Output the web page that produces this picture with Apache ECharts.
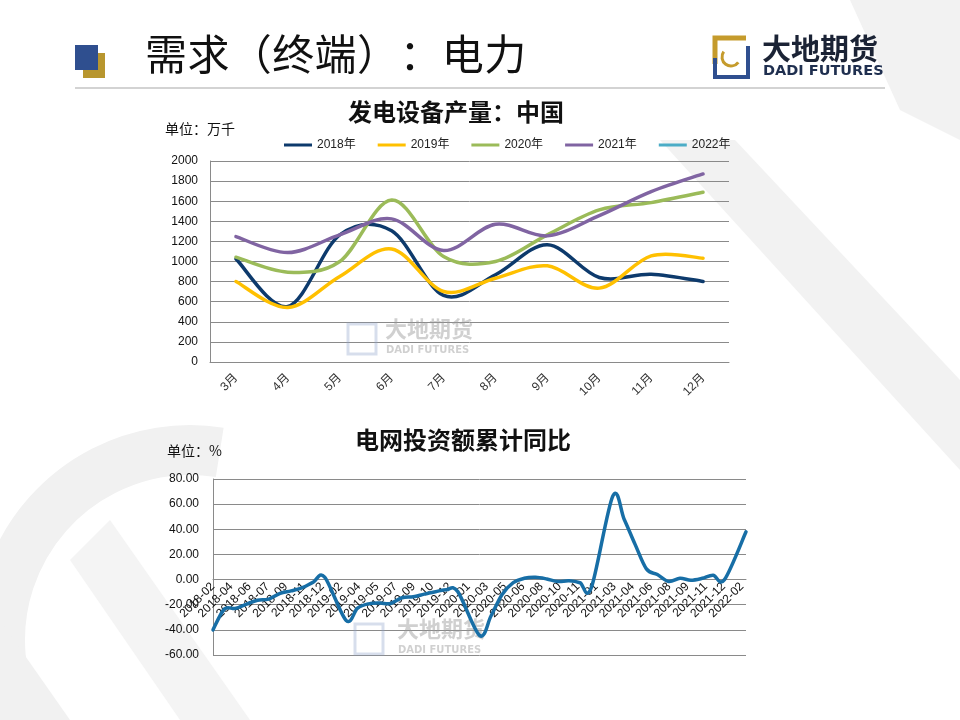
<!DOCTYPE html>
<html>
<head>
<meta charset="utf-8">
<title>需求（终端）：电力</title>
<script src="https://cdn.jsdelivr.net/npm/echarts@6/dist/echarts.min.js"></script>
<style>
  html, body { margin: 0; padding: 0; background: #fff; }
  #chart { width: 960px; height: 720px; }
</style>
</head>
<body>
<div id="chart"></div>
<script>
// 发电设备产量（万千瓦），3月-12月
var months = ['3月', '4月', '5月', '6月', '7月', '8月', '9月', '10月', '11月', '12月'];
var out2018 = [1026, 553, 1265, 1305, 662, 868, 1166, 841, 874, 801];
var out2019 = [801, 543, 851, 1125, 702, 834, 957, 735, 1056, 1033];
var out2020 = [1043, 894, 1000, 1612, 1050, 1000, 1265, 1513, 1586, 1689];
var out2021 = [1248, 1089, 1265, 1424, 1109, 1371, 1255, 1457, 1695, 1871];
var out2022 = [];
var outTicks = [0, 2000, 200];

// 电网投资额累计同比（%），1月与2月合并公布
var investMonths = [
  '2018-02', '2018-03', '2018-04', '2018-05', '2018-06', '2018-07', '2018-08', '2018-09', '2018-10', '2018-11', '2018-12',
  '2019-02', '2019-03', '2019-04', '2019-05', '2019-06', '2019-07', '2019-08', '2019-09', '2019-10', '2019-11', '2019-12',
  '2020-02', '2020-03', '2020-04', '2020-05', '2020-06', '2020-07', '2020-08', '2020-09', '2020-10', '2020-11', '2020-12',
  '2021-02', '2021-03', '2021-04', '2021-05', '2021-06', '2021-07', '2021-08', '2021-09', '2021-10', '2021-11', '2021-12',
  '2022-02'
];
var investYoy = [
  -40, -23.5, -23, -19.5, -16.5, -15.5, -11, -9, -6.5, -2, 2,
  -32.5, -22.8, -19.3, -18.7, -19, -14.5, -13.7, -11.6, -9.7, -8, -9.6,
  -44.5, -29, -12, -2.5, 1, 1.8, 0.5, -1.5, -1, -2.5, -6.5,
  66.5, 48, 28, 8.5, 4, -1.5, 1, -0.5, 1, 3.5, 0,
  38
];
var investTicks = [-60, 80, 20];
var labelStepDays = 50;

var DAY = 86400000;
var axisStart = Date.UTC(2018, 1, 28);
function monthEndOffset(ym) {
  var p = ym.split('-');
  return (Date.UTC(+p[0], +p[1], 0) - axisStart) / DAY;
}
function dayLabel(v) {
  var d = new Date(axisStart + v * DAY);
  var m = d.getUTCMonth() + 1;
  return d.getUTCFullYear() + '-' + (m < 10 ? '0' + m : m);
}

var FONT = "'Liberation Sans', 'Noto Sans CJK SC', sans-serif";
var CJK = "'Noto Sans CJK SC', sans-serif";
var gridColor = '#8a8a8a';

// excel-like smoothed line (catmull-rom through the points)
function smoothPath(pts) {
  var d = 'M' + pts[0][0] + ' ' + pts[0][1];
  for (var i = 0; i < pts.length - 1; i++) {
    var p0 = pts[i > 0 ? i - 1 : i], p1 = pts[i], p2 = pts[i + 1];
    var p3 = pts[i + 2 < pts.length ? i + 2 : i + 1];
    var c1x = p1[0] + (p2[0] - p0[0]) / 6, c1y = p1[1] + (p2[1] - p0[1]) / 6;
    var c2x = p2[0] - (p3[0] - p1[0]) / 6, c2y = p2[1] - (p3[1] - p1[1]) / 6;
    d += ' C' + c1x + ' ' + c1y + ' ' + c2x + ' ' + c2y + ' ' + p2[0] + ' ' + p2[1];
  }
  return d;
}

function curveSeries(name, data, color, axisIdx) {
  return {
    name: name,
    type: 'custom',
    xAxisIndex: axisIdx,
    yAxisIndex: axisIdx,
    data: data,
    encode: { x: 0, y: 1 },
    silent: true,
    itemStyle: { color: color },
    renderItem: function (params, api) {
      if (params.dataIndex !== 0) return null;
      var pts = data.map(function (p) { return api.coord(p); });
      return {
        type: 'path',
        shape: { pathData: smoothPath(pts) },
        style: { fill: 'none', stroke: color, lineWidth: 3.5, lineJoin: 'round', lineCap: 'round' }
      };
    }
  };
}
function byMonth(values) {
  return values.map(function (v, i) { return [i, v]; });
}
var investData = investMonths.map(function (m, i) {
  return [monthEndOffset(m), investYoy[i]];
});

var titleText = '需求（终端）：电力';
var titleGraphics = titleText.split('').map(function (ch, i) {
  return { type: 'text', left: 145 + i * 42.4, top: 33,
    style: { text: ch, font: '42px ' + CJK, fill: '#111' } };
});

// the lower chart's category axis sits on the zero line
var grid2Height = 176;
var zeroLift = -(0 - investTicks[0]) / (investTicks[1] - investTicks[0]) * grid2Height;

var chart = echarts.init(document.getElementById('chart'));

var option = {
  animation: false,
  backgroundColor: '#fff',
  textStyle: { fontFamily: FONT },
  graphic: [
    // faint background watermark shapes
    { type: 'polygon', z: -10, silent: true,
      shape: { points: [[850, 0], [960, 0], [960, 140], [900, 110]] },
      style: { fill: '#f2f2f2' } },
    { type: 'polygon', z: -10, silent: true,
      shape: { points: [[660, 140], [735, 140], [960, 380], [960, 470]] },
      style: { fill: '#f2f2f2' } },
    { type: 'arc', z: -10, silent: true,
      shape: { cx: 190, cy: 640, r: 190, startAngle: Math.PI * 0.85, endAngle: Math.PI * 1.55 },
      style: { stroke: '#f1f1f1', lineWidth: 50, fill: null } },
    { type: 'polygon', z: -10, silent: true,
      shape: { points: [[0, 620], [0, 720], [70, 720]] },
      style: { fill: '#f1f1f1' } },
    { type: 'polygon', z: -10, silent: true,
      shape: { points: [[180, 720], [250, 720], [110, 520], [70, 560]] },
      style: { fill: '#f4f4f4' } },

    // header
    { type: 'rect', shape: { x: 83, y: 53, width: 22, height: 25 }, style: { fill: '#b8962e' } },
    { type: 'rect', shape: { x: 75, y: 45, width: 23, height: 25 }, style: { fill: '#2f4f8f' } }
  ].concat(titleGraphics).concat([
    { type: 'line', shape: { x1: 75, y1: 88, x2: 885, y2: 88 },
      style: { stroke: '#c4c4c4', lineWidth: 1.5 } },

    // logo
    { type: 'polyline', shape: { points: [[746, 38], [715, 38], [715, 64]] },
      style: { stroke: '#c59b2c', lineWidth: 5, fill: null } },
    { type: 'polyline', shape: { points: [[715, 58], [715, 77], [748, 77], [748, 46]] },
      style: { stroke: '#2f4f8f', lineWidth: 4, fill: null } },
    { type: 'arc', shape: { cx: 731, cy: 57, r: 9, startAngle: Math.PI * 0.2, endAngle: Math.PI * 1.2 },
      style: { stroke: '#c59b2c', lineWidth: 3, fill: null } },
    { type: 'text', left: 762, top: 34,
      style: { text: '大地期货', font: 'bold 29px ' + CJK, fill: '#1b2335' } },
    { type: 'text', left: 763, top: 64,
      style: { text: 'DADI FUTURES', font: 'bold 14.5px "DejaVu Sans", sans-serif', fill: '#1f2f4f' } },

    // chart titles and units
    { type: 'text', x: 456, y: 112,
      style: { text: '发电设备产量：中国', font: 'bold 24px ' + CJK, fill: '#111',
        textAlign: 'center', textVerticalAlign: 'middle' } },
    { type: 'text', left: 165, top: 122,
      style: { text: '单位：万千', font: '14px ' + CJK, fill: '#111' } },
    { type: 'text', x: 463, y: 440,
      style: { text: '电网投资额累计同比', font: 'bold 24px ' + CJK, fill: '#111',
        textAlign: 'center', textVerticalAlign: 'middle' } },
    { type: 'text', left: 167, top: 444,
      style: { text: '单位：%', font: '14px ' + CJK, fill: '#111' } },

    // in-chart watermarks
    { type: 'text', left: 385, top: 318, z: 1,
      style: { text: '大地期货', font: 'bold 22px ' + CJK, fill: 'rgba(150,150,150,0.45)' } },
    { type: 'text', left: 386, top: 345, z: 1,
      style: { text: 'DADI FUTURES', font: 'bold 10px "DejaVu Sans", sans-serif', fill: 'rgba(150,150,150,0.45)' } },
    { type: 'rect', z: 1, shape: { x: 348, y: 324, width: 28, height: 30 },
      style: { stroke: 'rgba(140,160,200,0.35)', lineWidth: 3, fill: null } },
    { type: 'text', left: 397, top: 618, z: 1,
      style: { text: '大地期货', font: 'bold 22px ' + CJK, fill: 'rgba(150,150,150,0.45)' } },
    { type: 'text', left: 398, top: 645, z: 1,
      style: { text: 'DADI FUTURES', font: 'bold 10px "DejaVu Sans", sans-serif', fill: 'rgba(150,150,150,0.45)' } },
    { type: 'rect', z: 1, shape: { x: 355, y: 624, width: 28, height: 30 },
      style: { stroke: 'rgba(140,160,200,0.35)', lineWidth: 3, fill: null } }
  ]),
  legend: {
    data: ['2018年', '2019年', '2020年', '2021年', '2022年'],
    left: 284,
    top: 139,
    padding: 0,
    icon: 'rect',
    itemWidth: 28,
    itemHeight: 3,
    itemGap: 22,
    textStyle: { fontSize: 12, color: '#222', fontFamily: FONT }
  },
  grid: [
    { left: 210, top: 161, width: 519, height: 201, containLabel: false },
    { left: 213, top: 479, width: 533, height: grid2Height, containLabel: false }
  ],
  xAxis: [
    {
      type: 'category',
      gridIndex: 0,
      data: months,
      boundaryGap: true,
      axisLine: { lineStyle: { color: gridColor } },
      axisTick: { show: false },
      axisLabel: { rotate: 45, fontSize: 12, color: '#333', margin: 14, fontFamily: FONT },
      splitLine: { show: false }
    },
    {
      type: 'value',
      gridIndex: 1,
      position: 'bottom',
      offset: zeroLift,
      min: 0,
      max: monthEndOffset(investMonths[investMonths.length - 1]),
      interval: labelStepDays,
      axisLine: { onZero: false, lineStyle: { color: gridColor } },
      axisTick: { show: false },
      axisLabel: {
        rotate: 45, fontSize: 12, color: '#111', margin: 5, fontFamily: FONT,
        showMaxLabel: false, formatter: dayLabel
      },
      splitLine: { show: false }
    }
  ],
  yAxis: [
    {
      type: 'value',
      gridIndex: 0,
      min: outTicks[0],
      max: outTicks[1],
      interval: outTicks[2],
      axisLine: { show: true, onZero: false, lineStyle: { color: gridColor } },
      axisTick: { show: false },
      axisLabel: { fontSize: 12, color: '#111', margin: 12, fontFamily: FONT,
        formatter: function (v) { return String(v); } },
      splitLine: { lineStyle: { color: gridColor, width: 1 } }
    },
    {
      type: 'value',
      gridIndex: 1,
      min: investTicks[0],
      max: investTicks[1],
      interval: investTicks[2],
      axisLine: { show: true, onZero: false, lineStyle: { color: gridColor } },
      axisTick: { show: false },
      axisLabel: {
        fontSize: 12, color: '#111', margin: 14, fontFamily: FONT,
        formatter: function (v) { return v.toFixed(2); }
      },
      splitLine: { lineStyle: { color: gridColor, width: 1 } }
    }
  ],
  series: [
    curveSeries('2018年', byMonth(out2018), '#0d3a6c', 0),
    curveSeries('2019年', byMonth(out2019), '#ffc000', 0),
    curveSeries('2020年', byMonth(out2020), '#9bbb59', 0),
    curveSeries('2021年', byMonth(out2021), '#8064a2', 0),
    curveSeries('2022年', byMonth(out2022), '#4bacc6', 0),
    curveSeries('电网投资额累计同比', investData, '#176ea6', 1)
  ]
};

chart.setOption(option);
</script>
</body>
</html>
